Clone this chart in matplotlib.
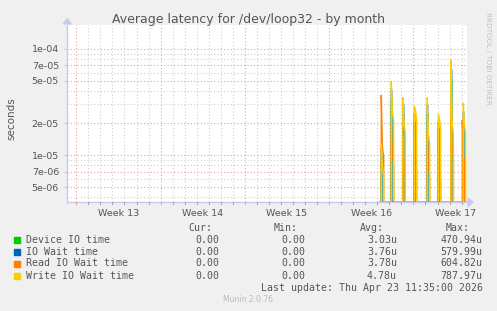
import numpy as np
import matplotlib
matplotlib.use("Agg")
import matplotlib.pyplot as plt
from matplotlib.transforms import blended_transform_factory

# ---------------- data ----------------
title = "Average latency for /dev/loop32 - by month"
y_label = "seconds"
week_labels = ["Week 13", "Week 14", "Week 15", "Week 16", "Week 17"]
week_starts = [0, 7, 14, 21, 28]          # days since start of week 13
x_range = (-0.75, 32.45)                  # days shown
y_range = (3.6e-6, 1.68e-4)
y_tick_values = [1e-4, 7e-5, 5e-5, 2e-5, 1e-5, 7e-6, 5e-6]
y_tick_labels = ["1e-04", "7e-05", "5e-05", "2e-05", "1e-05", "7e-06", "5e-06"]

data_start = 25.2                          # first day with data
data_end = 32.45

# spikes: day, peak value, tail value (next sample)
write_days  = [25.33, 26.16, 27.13, 28.07, 29.15, 30.07, 31.12, 32.14]
write_peak  = [1.3e-5, 5.0e-5, 3.5e-5, 2.9e-5, 3.5e-5, 2.45e-5, 7.9e-5, 3.1e-5]
write_tail  = [8.0e-6, 2.6e-5, 2.0e-5, 2.7e-5, 1.6e-5, 2.2e-5, 2.0e-5, 2.0e-5]

read_days   = [25.33, 26.16, 27.13, 28.07, 29.15, 30.07, 31.12, 32.06]
read_peak   = [3.68e-5, 2.0e-5, 1.5e-5, 1.4e-5, 1.6e-5, 1.2e-5, 3.0e-5, 2.14e-5]
read_tail   = [1.2e-5, 1.0e-5, 8.0e-6, 9.0e-6, 8.0e-6, 7.0e-6, 1.2e-5, 1.0e-5]

iowait_days = [25.33, 26.16, 27.13, 28.07, 29.15, 30.07, 31.12, 32.14]
iowait_peak = [1.2e-5, 4.2e-5, 3.0e-5, 2.5e-5, 3.0e-5, 2.1e-5, 6.5e-5, 2.6e-5]

device_days = [25.33, 26.16, 27.13, 28.07, 29.15, 30.07, 31.12, 32.14]
device_peak = [1.0e-5, 3.4e-5, 2.5e-5, 2.1e-5, 2.5e-5, 1.8e-5, 5.2e-5, 2.2e-5]

legend_names = ["Device IO time", "IO Wait time", "Read IO Wait time", "Write IO Wait time"]
legend_colors = ["#00CC00", "#0066B3", "#FF8000", "#FFCC00"]
cur_vals = ["0.00", "0.00", "0.00", "0.00"]
min_vals = ["0.00", "0.00", "0.00", "0.00"]
avg_vals = ["3.03u", "3.76u", "3.78u", "4.78u"]
max_vals = ["470.94u", "579.99u", "604.82u", "787.97u"]
last_update = "Last update: Thu Apr 23 11:35:00 2026"
footer = "Munin 2.0.76"
side_text = "RRDTOOL / TOBI OETIKER"

# ---------------- figure ----------------
W, H = 497, 311
fig = plt.figure(figsize=(W / 100, H / 100), dpi=100, facecolor="#F0F0F0")
L, R, T, B = 67.3, 467.0, 25.0, 202.3
ax = fig.add_axes([L / W, 1 - B / H, (R - L) / W, (B - T) / H])
ax.set_facecolor("white")
ax.set_yscale("log")
ax.set_xlim(*x_range)
ax.set_ylim(*y_range)

# grid
minor_col = "#D0D0D0"
major_col = "#E8A0A0"
for d in range(int(np.ceil(x_range[0])), int(np.floor(x_range[1])) + 1):
    if d in week_starts:
        continue
    ax.axvline(d, color=minor_col, lw=0.8, ls=(0, (1, 2)), zorder=1)
for d in week_starts:
    ax.axvline(d, color=major_col, lw=0.8, ls=(0, (1, 2)), zorder=1)
for e in [-6, -5, -4]:
    for m in range(1, 10):
        v = m * 10.0 ** e
        if not (y_range[0] < v < y_range[1]):
            continue
        col = major_col if m in (1, 2, 5, 7) else minor_col
        ax.axhline(v, color=col, lw=0.8, ls=(0, (1, 2)), zorder=1)

floor = y_range[0] * 1.005


def build(days, peaks, tails, floor):
    t = [data_start]
    v = [floor]
    for i, (d, p) in enumerate(zip(days, peaks)):
        if tails is None:
            t += [d, d, d]
            v += [floor, p, floor]
        else:
            q = tails[i]
            t += [d, d, d + 0.09, d + 0.2, d + 0.2]
            v += [floor, p, q, q * 0.8, floor]
    t.append(data_end)
    v.append(floor)
    return np.array(t), np.array(v)


series = [(device_days, device_peak, None),
          (iowait_days, iowait_peak, None),
          (read_days, read_peak, read_tail),
          (write_days, write_peak, write_tail)]
for (d, p, q), c in zip(series, legend_colors):
    t, v = build(d, p, q, floor)
    ax.plot(t, v, color=c, lw=1.0, zorder=3, solid_joinstyle="miter")

# axes styling
axis_col = "#C8C8F0"
for s in ["top", "right"]:
    ax.spines[s].set_visible(False)
ax.spines["left"].set_color(axis_col)
ax.spines["bottom"].set_color(axis_col)
ax.spines["left"].set_linewidth(1.0)
ax.spines["bottom"].set_linewidth(1.0)
ax.spines["bottom"].set_zorder(2)

ax.set_yticks(y_tick_values)
ax.set_yticklabels(y_tick_labels)
ax.yaxis.set_minor_locator(matplotlib.ticker.NullLocator())
ax.tick_params(axis="y", length=2, color=axis_col, labelsize=6.8,
               labelcolor="#555555", pad=4)

ax.set_xticks([w + 3.5 for w in week_starts])
ax.set_xticklabels(week_labels)
ax.tick_params(axis="x", length=0, labelsize=6.8, labelcolor="#555555", pad=5)
for d in range(int(np.ceil(x_range[0])), int(np.floor(x_range[1])) + 1):
    col = major_col if d in week_starts else "#AAAAAA"
    ax.plot([d, d], [0, -0.012], transform=blended_transform_factory(ax.transData, ax.transAxes),
            color=col, lw=0.8, clip_on=False, zorder=4)

# arrows
fig.patches.append(matplotlib.patches.FancyArrow(
    L / W, 1 - (T - 1) / H, 0, 0.0001, width=0, head_width=8 / W, head_length=5 / H,
    color=axis_col, transform=fig.transFigure, length_includes_head=False))
fig.patches.append(matplotlib.patches.FancyArrow(
    (R + 1) / W, 1 - B / H, 0.0001, 0, width=0, head_width=8 / H, head_length=5 / W,
    color=axis_col, transform=fig.transFigure, length_includes_head=False))

# texts
fig.text(248 / W, 1 - 19 / H, title, ha="center", va="center", fontsize=9.0, color="#555555")
fig.text(11 / W, 1 - 119 / H, y_label, rotation=90, ha="center", va="center",
         fontsize=7.5, color="#555555")
fig.text(488 / W, 1 - 58 / H, side_text, rotation=270, ha="center", va="center",
         fontsize=5.2, color="#C0C0C0")

mono = "DejaVu Sans Mono"
fs = 7.1
tc = "#555555"
hy = 1 - 227.7 / H
for txt, xr in zip(["Cur:", "Min:", "Avg:", "Max:"], [212.7, 298, 384, 470]):
    fig.text(xr / W, hy, txt, ha="right", va="center", family=mono, fontsize=fs, color=tc)
row_y = [239.7, 251.7, 263.5, 275.7]
for i, name in enumerate(legend_names):
    y = 1 - row_y[i] / H
    fig.patches.append(matplotlib.patches.Rectangle(
        (13.5 / W, 1 - (row_y[i] + 3) / H), 6 / W, 6 / H, transform=fig.transFigure,
        color=legend_colors[i]))
    fig.text(26 / W, y, name, ha="left", va="center", family=mono, fontsize=fs, color=tc)
    for vals, xr in zip([cur_vals, min_vals, avg_vals, max_vals], [219, 305, 397, 482.7]):
        fig.text(xr / W, y, vals[i], ha="right", va="center", family=mono, fontsize=fs, color=tc)
fig.text(482.7 / W, 1 - 287.7 / H, last_update, ha="right", va="center", family=mono,
         fontsize=fs, color=tc)
fig.text(248 / W, 1 - 299.5 / H, footer, ha="center", va="center", fontsize=5.5, color="#BBBBBB")

fig.savefig("out.png", dpi=100, facecolor=fig.get_facecolor())
